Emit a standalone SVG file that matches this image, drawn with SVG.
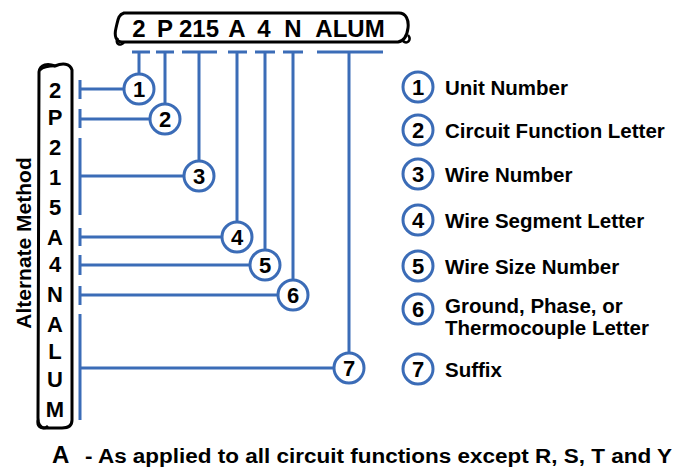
<svg xmlns="http://www.w3.org/2000/svg" width="675" height="473" viewBox="0 0 675 473">
<style>
.t{font-family:"Liberation Sans",Arial,sans-serif;font-weight:bold;fill:#000}
.big{font-size:22px;text-anchor:middle}
.top{font-size:24px;text-anchor:middle}
.num{font-size:22px;text-anchor:middle}
.leg{font-size:20.5px}
.bl{stroke:#3b6cb7;stroke-width:3;fill:none}
.c{stroke:#3b6cb7;stroke-width:3;fill:#fff}
.box{stroke:#000;stroke-width:3;fill:#fff;stroke-linejoin:round}
</style>
<rect width="675" height="473" fill="#fff"/>
<g id="top-label">
<path class="box" d="M124,13 H399 C406,13 409,20 408,28 C407,36 404,41 398,42 H122 C116,42 114,36 116,28 C118,20 118,15 124,13 Z"/>
<path d="M118,38 C114,44 121,47 124,42 M403,41 C407,45 412,40 408,35" stroke="#000" stroke-width="2.5" fill="none"/>
<text class="t top" x="139" y="37">2</text>
<text class="t top" x="165" y="37">P</text>
<text class="t top" x="199" y="37">215</text>
<text class="t top" x="237" y="37">A</text>
<text class="t top" x="264" y="37">4</text>
<text class="t top" x="293" y="37">N</text>
<text class="t top" x="350" y="37">ALUM</text>
</g>
<g id="alt-label">
<path class="box" d="M39,72 C40,64 48,63 55,66 C62,63 70,63 72,70 V420 C72,426 68,428 62,428 H45 C40,428 38,424 38,418 Z"/>
<path d="M40,70 C44,66 50,66 55,66 M38,420 C36,428 44,430 48,426" stroke="#000" stroke-width="2.5" fill="none"/>
<text class="t big" x="55" y="98">2</text>
<text class="t big" x="55" y="125">P</text>
<text class="t big" x="55" y="155">2</text>
<text class="t big" x="55" y="185">1</text>
<text class="t big" x="55" y="215">5</text>
<text class="t big" x="55" y="245">A</text>
<text class="t big" x="55" y="272">4</text>
<text class="t big" x="55" y="302">N</text>
<text class="t big" x="55" y="332">A</text>
<text class="t big" x="55" y="359">L</text>
<text class="t big" x="55" y="387">U</text>
<text class="t big" x="55" y="417">M</text>
<text class="t" font-size="21" text-anchor="middle" transform="translate(31,243) rotate(-90)">Alternate Method</text>
</g>
<g id="connectors">
<path class="bl" d="M132,52 H150 M156,52 H174 M182,52 H217 M228,52 H247 M255,52 H275 M283,52 H303 M317,52 H383"/>
<path class="bl" d="M80,80 V99 M80,109 V128 M80,138 V215 M80,228 V246 M80,255 V275 M80,286 V305 M80,314 V420"/>
<path class="bl" d="M139,52 V74 M165,52 V104 M199,52 V161 M237,52 V222 M265,52 V250 M293,52 V280 M349,52 V353"/>
<path class="bl" d="M80,89 H124 M80,119 H150 M80,176 H184 M80,237 H222 M80,265 H250 M80,295 H278 M80,368 H334"/>
</g>
<g id="n1"><circle class="c" cx="139" cy="89" r="15"/><text class="t num" x="139" y="97">1</text></g>
<g id="n2"><circle class="c" cx="165" cy="119" r="15"/><text class="t num" x="165" y="127">2</text></g>
<g id="n3"><circle class="c" cx="199" cy="176" r="15"/><text class="t num" x="199" y="184">3</text></g>
<g id="n4"><circle class="c" cx="237" cy="237" r="15"/><text class="t num" x="237" y="245">4</text></g>
<g id="n5"><circle class="c" cx="265" cy="265" r="15"/><text class="t num" x="265" y="273">5</text></g>
<g id="n6"><circle class="c" cx="293" cy="295" r="15"/><text class="t num" x="293" y="303">6</text></g>
<g id="n7"><circle class="c" cx="349" cy="368" r="15"/><text class="t num" x="349" y="376">7</text></g>
<g id="legend">
<circle class="c" cx="418" cy="87" r="15"/><text class="t num" x="418" y="95">1</text><text class="t leg" x="445" y="95">Unit Number</text>
<circle class="c" cx="418" cy="130" r="15"/><text class="t num" x="418" y="138">2</text><text class="t leg" x="445" y="138">Circuit Function Letter</text>
<circle class="c" cx="418" cy="174" r="15"/><text class="t num" x="418" y="182">3</text><text class="t leg" x="445" y="182">Wire Number</text>
<circle class="c" cx="418" cy="220" r="15"/><text class="t num" x="418" y="228">4</text><text class="t leg" x="445" y="228">Wire Segment Letter</text>
<circle class="c" cx="418" cy="266" r="15"/><text class="t num" x="418" y="274">5</text><text class="t leg" x="445" y="274">Wire Size Number</text>
<circle class="c" cx="418" cy="309" r="15"/><text class="t num" x="418" y="317">6</text><text class="t leg" x="445" y="313">Ground, Phase, or</text><text class="t leg" x="445" y="335">Thermocouple Letter</text>
<circle class="c" cx="418" cy="369" r="15"/><text class="t num" x="418" y="377">7</text><text class="t leg" x="445" y="377">Suffix</text>
</g>
<g id="footnote">
<text class="t" font-size="24" x="52" y="463">A</text>
<text class="t" font-size="20" x="85" y="463" textLength="587" lengthAdjust="spacingAndGlyphs">- As applied to all circuit functions except R, S, T and Y</text>
</g>
</svg>
